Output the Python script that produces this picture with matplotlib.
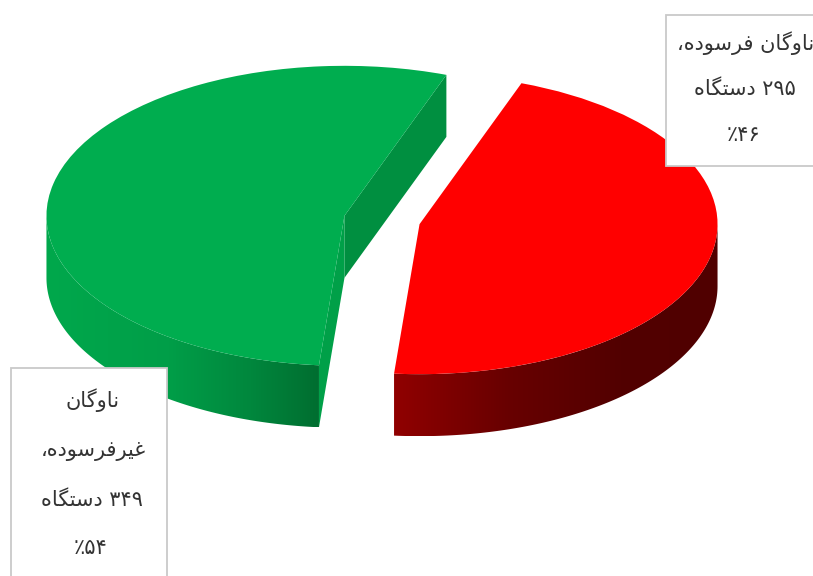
"""3D-style exploded pie of fleet condition, labels in Persian."""
import numpy as np
import matplotlib
matplotlib.use("Agg")
import matplotlib.pyplot as plt
from matplotlib.colors import LinearSegmentedColormap
from matplotlib.patches import Polygon, Rectangle

WIDTH, HEIGHT = 813, 576

# data
values = [295, 349]
label_lines = [
    ["ناوگان فرسوده،", "{n} دستگاه", "{p}٪"],
    ["ناوگان", "غیرفرسوده،", "{n} دستگاه", "{p}٪"],
]
top_colors = ["#FF0000", "#00AD4F"]

# pie geometry in pixels
CX, CY = 382, 220
RX, RY = 298, 150
DEPTH_PX = 62


def xd(px):
    return (px - CX) / RX


def yd(py):
    return (CY - py) / RY


# presentation forms: isolated, final, initial, medial
FORMS = {
    "ن": "\uFEE5\uFEE6\uFEE7\uFEE8",
    "ا": "\uFE8D\uFE8E\uFE8D\uFE8E",
    "و": "\uFEED\uFEEE\uFEED\uFEEE",
    "گ": "\uFB92\uFB93\uFB94\uFB95",
    "ف": "\uFED1\uFED2\uFED3\uFED4",
    "ر": "\uFEAD\uFEAE\uFEAD\uFEAE",
    "س": "\uFEB1\uFEB2\uFEB3\uFEB4",
    "د": "\uFEA9\uFEAA\uFEA9\uFEAA",
    "ه": "\uFEE9\uFEEA\uFEEB\uFEEC",
    "غ": "\uFECD\uFECE\uFECF\uFED0",
    "ی": "\uFBFC\uFBFD\uFBFE\uFBFF",
    "ت": "\uFE95\uFE96\uFE97\uFE98",
}
NON_FORWARD = set("اورد")
FA_DIGITS = str.maketrans("0123456789", "۰۱۲۳۴۵۶۷۸۹")


def shape(text):
    # matplotlib has no bidi or joining, so lay the glyphs out by hand
    out = []
    for i, ch in enumerate(text):
        if ch not in FORMS:
            out.append(ch)
            continue
        prev = text[i - 1] if i else ""
        nxt = text[i + 1] if i + 1 < len(text) else ""
        joins_prev = prev in FORMS and prev not in NON_FORWARD
        joins_next = nxt in FORMS and ch not in NON_FORWARD
        form = {(False, False): 0, (True, False): 1,
                (False, True): 2, (True, True): 3}[(joins_prev, joins_next)]
        out.append(FORMS[ch][form])
    # visual order, digit runs stay left to right
    vis = "".join(reversed(out))
    result, run = [], []
    for ch in vis:
        if ch in "۰۱۲۳۴۵۶۷۸۹":
            run.append(ch)
        else:
            result.extend(reversed(run))
            run = []
            result.append(ch)
    result.extend(reversed(run))
    return "".join(result)


def wall(ax, xs, ys, cmap_stops, x0, x1):
    # extruded side with a horizontal shade, clipped to its outline
    poly = Polygon(np.column_stack([xs, ys]), closed=True, fc="none", ec="none")
    ax.add_patch(poly)
    cmap = LinearSegmentedColormap.from_list("shade", cmap_stops)
    im = ax.imshow(np.linspace(0, 1, 256)[None, :], cmap=cmap, aspect="auto",
                   extent=(x0, x1, min(ys), max(ys)), zorder=1)
    im.set_clip_path(poly)


plt.rcParams["font.family"] = ["DejaVu Sans"]
fig = plt.figure(figsize=(WIDTH / 100, HEIGHT / 100), dpi=100)
ax = fig.add_axes([0, 0, 1, 1])

total = sum(values)
red_sweep = 360 * values[0] / total
wedges, _ = ax.pie(values, colors=top_colors, explode=[0.129, 0.129], radius=1,
                   startangle=70 - red_sweep, counterclock=True)
depth = DEPTH_PX / RY

for w in wedges:
    w.set_zorder(3)
    w.set_linewidth(0)

# red outer wall, front part of the rim only
red, green = wedges
t = np.radians(np.linspace(red.theta1, 0, 120))
rx = red.center[0] + np.cos(t)
ry = red.center[1] + np.sin(t)
wall(ax, np.r_[rx, rx[::-1]], np.r_[ry, ry[::-1] - depth],
     [(0, "#900000"), (0.35, "#680000"), (0.7, "#520000"), (1, "#500000")],
     rx.min(), rx.max())

# green outer wall
t = np.radians(np.linspace(180, green.theta2, 120))
gx = green.center[0] + np.cos(t)
gy = green.center[1] + np.sin(t)
wall(ax, np.r_[gx, gx[::-1]], np.r_[gy, gy[::-1] - depth],
     [(0, "#00A84C"), (0.45, "#009E48"), (0.75, "#00873D"), (1, "#006E30")],
     gx.min(), gx.max())

# green cut faces
cx, cy = green.center
for ang, col in [(green.theta1, "#008F40"), (green.theta2, "#00A048")]:
    ex, ey = cx + np.cos(np.radians(ang)), cy + np.sin(np.radians(ang))
    ax.add_patch(Polygon([(cx, cy), (ex, ey), (ex, ey - depth), (cx, cy - depth)],
                         closed=True, fc=col, ec="none", zorder=2))

# label boxes: x0, y0, x1, y1 in pixels
boxes = [(666, 15, 830, 166), (11, 368, 167, 590)]
line_pos = [[(746, 43), (745, 89), (744, 135)],
            [(93, 400), (93, 451), (92, 500), (91, 548)]]
for val, lines, box, pos in zip(values, label_lines, boxes, line_pos):
    x0, y0, x1, y1 = box
    ax.add_patch(Rectangle((xd(x0), yd(y1)), xd(x1) - xd(x0), yd(y0) - yd(y1),
                           fc="white", ec="#C9C9C9", lw=1.3, zorder=4))
    pct = round(100 * val / total)
    for line, (px, py) in zip(lines, pos):
        s = line.format(n=str(val).translate(FA_DIGITS), p=str(pct).translate(FA_DIGITS))
        ax.text(xd(px), yd(py), shape(s), ha="center", va="center",
                fontsize=15, color="#333333", zorder=5)

ax.set_aspect("auto")
ax.set_xlim(xd(0), xd(WIDTH))
ax.set_ylim(yd(HEIGHT), yd(0))
ax.axis("off")

fig.savefig("out.png", dpi=100)
